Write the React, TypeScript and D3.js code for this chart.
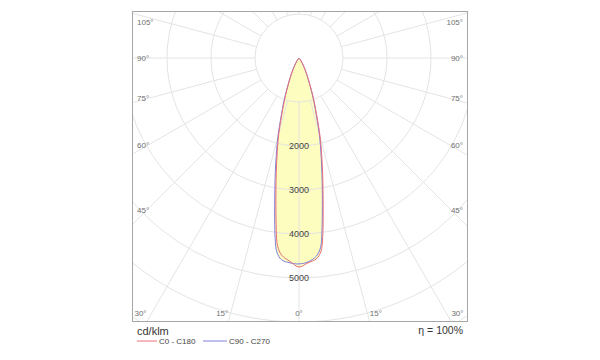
import React from "react";
import * as d3 from "d3";

// ---- data ----
const gammaDeg = [0, 2.5, 5, 6.5, 7.5, 10, 12.5, 15, 17.5, 20, 25, 30, 35, 40, 45, 50, 60, 90, 120, 150, 180];
const c0 = [4750, 4660, 4580, 4420, 4120, 3150, 2430, 1850, 1300, 930, 440, 205, 80, 25, 8, 2, 0, 0, 0, 0, 0];
const c180 = [4750, 4630, 4500, 4300, 3950, 3020, 2320, 1770, 1240, 880, 420, 195, 78, 24, 8, 2, 0, 0, 0, 0, 0];
const c90 = [4680, 4640, 4520, 4330, 3990, 3050, 2340, 1780, 1250, 890, 425, 200, 80, 25, 8, 2, 0, 0, 0, 0, 0];
const c270 = [4680, 4660, 4600, 4440, 4150, 3170, 2440, 1850, 1300, 930, 440, 205, 80, 25, 8, 2, 0, 0, 0, 0, 0];

const circleValues = [1000, 2000, 3000, 4000, 5000, 6000, 7000, 8000];
const radialLabels = [2000, 3000, 4000, 5000];
const sideAngles = [105, 90, 75, 60, 45];
const bottomAngles = [-30, -15, 0, 15, 30];
const seriesNames = ["C0 - C180", "C90 - C270"];
const unitLabel = "cd/klm";
const effLabel = "η = 100%";

// ---- layout ----
const W = 600, H = 360;
const frame = { left: 132, top: 11, right: 468, bottom: 322 };
const cx = 299, cy = 58;
const rScale = d3.scaleLinear().domain([0, 1000]).range([0, 44]);
const red = "#e8707a";
const blue = "#7e7ee0";
const fillCol = "#fdfdbf";
const gridCol = "#e4e4e4";
const font = "Liberation Sans, Arial, sans-serif";

const rad = (d: number) => (d * Math.PI) / 180;

function halfPoints(vals: number[], side: number) {
  const pts: [number, number][] = [];
  gammaDeg.forEach((g, i) => {
    const r = rScale(vals[i]);
    pts.push([cx + side * r * Math.sin(rad(g)), cy + r * Math.cos(rad(g))]);
  });
  return pts;
}

function planePath(left: number[], right: number[]) {
  const L = halfPoints(left, -1).slice().reverse();
  const R = halfPoints(right, 1).slice(1);
  const all = [...L, ...R];
  const pts: [number, number][] = [];
  all.forEach((p) => {
    const last = pts[pts.length - 1];
    if (!last || Math.hypot(last[0] - p[0], last[1] - p[1]) > 0.01) pts.push(p);
  });
  return d3.line().curve(d3.curveCatmullRom.alpha(0.5))(pts) || "";
}

export default function App() {
  const pathRed = planePath(c180, c0);
  const pathBlue = planePath(c270, c90);
  const rays = d3.range(0, 360, 15);
  const rMin = rScale(1000);
  const rMax = rScale(9000);
  const labelX = 147;

  return (
    <svg width={W} height={H} style={{ position: "absolute", left: 0, top: 0, background: "#fff" }} fontFamily={font}>
      <defs>
        <clipPath id="frameClip">
          <rect x={frame.left} y={frame.top} width={frame.right - frame.left} height={frame.bottom - frame.top} />
        </clipPath>
      </defs>
      <g clipPath="url(#frameClip)">
        <path d={pathRed} fill={fillCol} stroke="none" />
        <path d={pathBlue} fill={fillCol} stroke="none" />
        {circleValues.map((v) => (
          <circle key={v} cx={cx} cy={cy} r={rScale(v)} fill="none" stroke={gridCol} strokeWidth={1} />
        ))}
        {rays.map((a) => (
          <line
            key={a}
            x1={cx + rMin * Math.sin(rad(a))}
            y1={cy + rMin * Math.cos(rad(a))}
            x2={cx + rMax * Math.sin(rad(a))}
            y2={cy + rMax * Math.cos(rad(a))}
            stroke={gridCol}
            strokeWidth={1}
          />
        ))}
        <path d={pathBlue} fill="none" stroke={blue} strokeWidth={1} />
        <path d={pathRed} fill="none" stroke={red} strokeWidth={1} />
      </g>
      <rect
        x={frame.left + 0.5}
        y={frame.top + 0.5}
        width={frame.right - frame.left - 1}
        height={frame.bottom - frame.top - 1}
        fill="none"
        stroke="#a6a6a6"
        strokeWidth={1}
      />
      {radialLabels.map((v) => (
        <text key={v} x={cx} y={cy + rScale(v)} textAnchor="middle" dominantBaseline="central" fontSize={9} fill="#444">
          {v}
        </text>
      ))}
      {sideAngles.map((a) => {
        const dx = cx - labelX;
        const y = Math.max(cy + dx / Math.tan(rad(a)), frame.top + 11);
        return (
          <g key={a}>
            <text x={frame.left + 5} y={y} dominantBaseline="central" fontSize={8} fill="#707070">{`${a}°`}</text>
            <text x={frame.right - 5} y={y} textAnchor="end" dominantBaseline="central" fontSize={8} fill="#707070">{`${a}°`}</text>
          </g>
        );
      })}
      {bottomAngles.map((a, i) => {
        const x = cx + (frame.bottom - cy) * Math.tan(rad(a));
        const anchor = a < 0 ? "end" : a > 0 ? "start" : "middle";
        return (
          <text key={i} x={x} y={frame.bottom - 9} textAnchor={anchor} dominantBaseline="central" fontSize={8} fill="#707070">
            {`${Math.abs(a)}°`}
          </text>
        );
      })}
      <text x={frame.left + 5} y={331} dominantBaseline="central" fontSize={11} fill="#333">{unitLabel}</text>
      <text x={frame.right - 5} y={330} textAnchor="end" dominantBaseline="central" fontSize={10.5} fill="#333">{effLabel}</text>
      <line x1={137} x2={157} y1={341} y2={341} stroke={red} strokeWidth={1} />
      <text x={159} y={341} dominantBaseline="central" fontSize={8} fill="#444">{seriesNames[0]}</text>
      <line x1={203} x2={227} y1={341} y2={341} stroke={blue} strokeWidth={1} />
      <text x={229} y={341} dominantBaseline="central" fontSize={8} fill="#444">{seriesNames[1]}</text>
    </svg>
  );
}
